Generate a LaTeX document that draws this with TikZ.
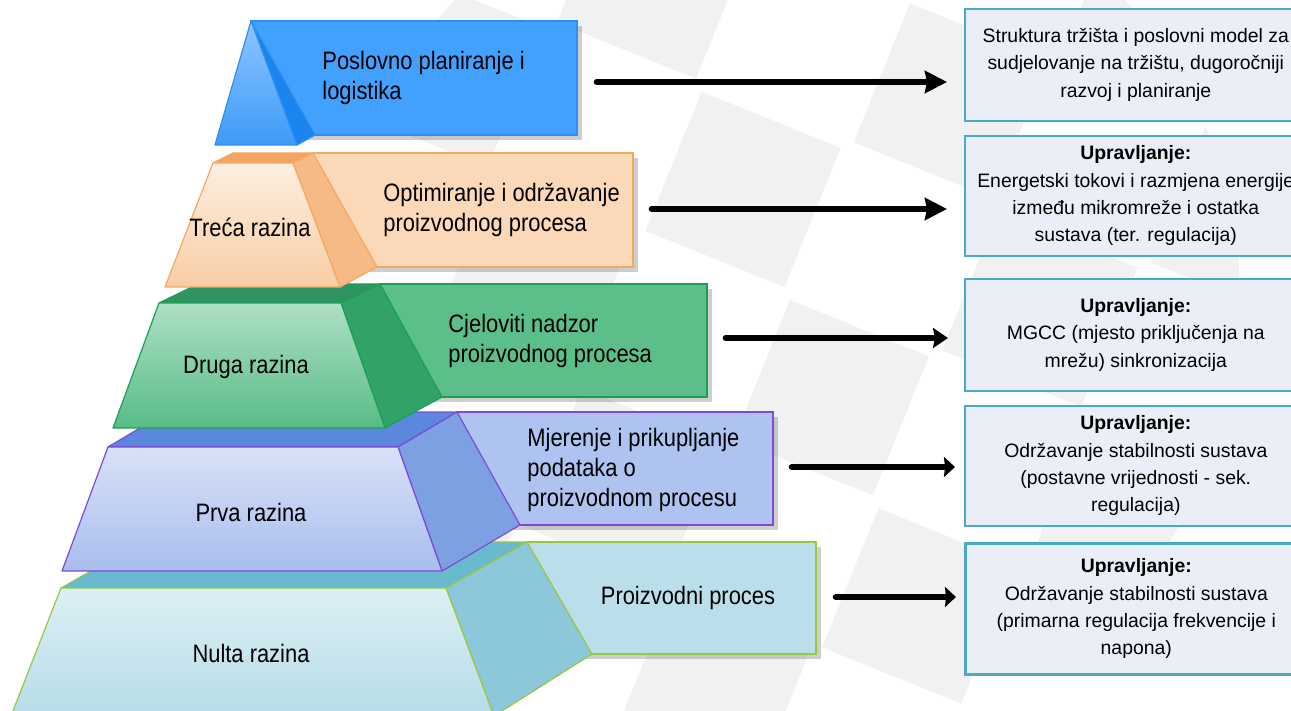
\documentclass[tikz,border=0pt]{standalone}
\usepackage{fontspec}
\setmainfont{Liberation Sans}
\newfontfamily\narrowfont[FakeStretch=0.87]{Liberation Sans}
\usetikzlibrary{arrows.meta,positioning,fit,shadows}

% tier colours
\definecolor{wmark}{HTML}{F1F1F1}
\definecolor{boxA}{HTML}{42A1FF}\definecolor{lineA}{HTML}{2B8FF5}
\definecolor{hiA}{HTML}{8EC5FF}\definecolor{loA}{HTML}{3D9BF8}\definecolor{sideA}{HTML}{1A85EE}
\definecolor{boxB}{HTML}{FBD8B8}\definecolor{lineB}{HTML}{F5A860}
\definecolor{hiB}{HTML}{FDEEE2}\definecolor{loB}{HTML}{F8CDA4}
\definecolor{topB}{HTML}{F2A561}\definecolor{sideB}{HTML}{F6BA86}
\definecolor{boxC}{HTML}{5CBF8A}\definecolor{lineC}{HTML}{1AA055}
\definecolor{hiC}{HTML}{AEE0C4}\definecolor{loC}{HTML}{58BC86}
\definecolor{topC}{HTML}{2F9461}\definecolor{sideC}{HTML}{33A267}
\definecolor{boxD}{HTML}{AEC3F0}\definecolor{lineD}{HTML}{7A4CD9}
\definecolor{hiD}{HTML}{D8E2F7}\definecolor{loD}{HTML}{A9BDEE}
\definecolor{topD}{HTML}{5B87DD}\definecolor{sideD}{HTML}{7DA0E3}
\definecolor{boxE}{HTML}{BBDFEA}\definecolor{lineE}{HTML}{95C940}
\definecolor{hiE}{HTML}{DDEFF5}\definecolor{loE}{HTML}{B6DCE7}
\definecolor{topE}{HTML}{69B9D1}\definecolor{sideE}{HTML}{8DC7DA}
\definecolor{ctlfill}{HTML}{EAEFF7}\definecolor{ctlline}{HTML}{4BA8C8}

\begin{document}
\begin{tikzpicture}[
	x=0.5pt, y=-0.5pt,
	every node/.style={font=\narrowfont\fontsize{12.6}{15}\selectfont, text=black},
	lblbox/.style={draw, line width=0.7pt, inner sep=0pt,
		drop shadow={shadow xshift=2.5pt, shadow yshift=-2.5pt, opacity=0.35, fill=black!55}},
	face/.style={line width=0.6pt, line join=round},
	lbltext/.style={anchor=west, align=left, inner sep=0pt},
	ctlbox/.style={draw=ctlline, fill=ctlfill, line width=0.8pt, anchor=north west,
		minimum width=171pt, align=center, inner sep=0pt,
		font=\fontsize{9.7}{13.7}\selectfont},
	arrowline/.style={line width=3pt, line cap=round},
	bighead/.style={-{Stealth[length=11pt, width=11pt, inset=1pt]}},
	midhead/.style={-{Stealth[length=7.5pt, width=10pt, inset=1pt]}},
	smallhead/.style={-{Stealth[length=5.5pt, width=10pt, inset=0.5pt]}}
	]
	\clip (0,0) rectangle (1291,711);
	
	%--- faint watermark ---
	\begin{scope}
		\clip (790,300) circle (225pt);
		\begin{scope}[rotate around={-22:(790,300)}]
			\foreach \i in {-3,...,3}{
				\foreach \j in {-3,...,3}{
					\pgfmathtruncatemacro{\odd}{mod(\i+\j+20,2)}
					\ifnum\odd=0
					\fill[wmark] (790+\i*160,300+\j*160) rectangle ++(150,150);
					\fi
				}
			}
		\end{scope}
	\end{scope}
	
	%--- level 0 ---
	\node[lblbox, draw=lineE, fill=boxE, fit={(527,542) (816,654)}] (lvl0) {};
	\draw[face, draw=lineE, fill=topE] (61,588) -- (142,542) -- (527,542) -- (446,588) -- cycle;
	\draw[face, draw=lineE, fill=sideE] (446,588) -- (527,542) -- (592,654) -- (494,716) -- cycle;
	\draw[face, draw=lineE, top color=hiE, bottom color=loE] (61,588) -- (446,588) -- (494,716) -- (11,716) -- cycle;
	\node (n0) at (251,653) {Nulta razina};
	\node (t0) at (688,598) {Proizvodni proces};
	
	%--- level 1 ---
	\node[lblbox, draw=lineD, fill=boxD, fit={(457,412) (773,525)}] (lvl1) {};
	\draw[face, draw=lineD, fill=topD] (108,447) -- (167,412) -- (457,412) -- (398,447) -- cycle;
	\draw[face, draw=lineD, fill=sideD] (398,447) -- (457,412) -- (520,525) -- (442,571) -- cycle;
	\draw[face, draw=lineD, top color=hiD, bottom color=loD] (108,447) -- (398,447) -- (442,571) -- (62,571) -- cycle;
	\node (n1) at (251,512) {Prva razina};
	\node[lbltext] (t1) at (527,470) {Mjerenje i prikupljanje\\podataka o\\proizvodnom procesu};
	
	%--- level 2 ---
	\node[lblbox, draw=lineC, fill=boxC, fit={(380,284) (707,397)}] (lvl2) {};
	\draw[face, draw=lineC, fill=topC] (159,303) -- (198,284) -- (380,284) -- (341,303) -- cycle;
	\draw[face, draw=lineC, fill=sideC] (341,303) -- (380,284) -- (442,397) -- (385,428) -- cycle;
	\draw[face, draw=lineC, top color=hiC, bottom color=loC] (159,303) -- (341,303) -- (385,428) -- (113,428) -- cycle;
	\node (n2) at (246,367) {Druga razina};
	\node[lbltext] (t2) at (448,341) {Cjeloviti nadzor\\proizvodnog procesa};
	
	%--- level 3 ---
	\node[lblbox, draw=lineB, fill=boxB, fit={(313,153) (633,267)}] (lvl3) {};
	\draw[face, draw=lineB, fill=topB] (213,163) -- (233,153) -- (313,153) -- (293,163) -- cycle;
	\draw[face, draw=lineB, fill=sideB] (293,163) -- (313,153) -- (377,267) -- (340,287) -- cycle;
	\draw[face, draw=lineB, top color=hiB, bottom color=loB] (213,163) -- (293,163) -- (340,287) -- (165,287) -- cycle;
	\node (n3) at (250,227) {Treća razina};
	\node[lbltext] (t3) at (383,210) {Optimiranje i održavanje\\proizvodnog procesa};
	
	%--- level 4 (top) ---
	\node[lblbox, draw=lineA, fill=boxA, fit={(251,21) (577,135)}] (lvl4) {};
	\draw[face, draw=lineA, fill=sideA] (257,37) -- (251,21) -- (315,135) -- (297,145) -- cycle;
	\draw[face, draw=lineA, top color=hiA, bottom color=loA] (251,21) -- (257,37) -- (297,145) -- (215,145) -- cycle;
	\node[lbltext] (t4) at (322,78) {Poslovno planiranje i\\logistika};
	
	%--- control boxes ---
	\node[ctlbox, minimum height=56pt] (ctl4) at (964,8)
	{Struktura tržišta i poslovni model za\\sudjelovanje na tržištu, dugoročniji\\razvoj i planiranje};
	\node[ctlbox, minimum height=60pt] (ctl3) at (964,135)
	{\textbf{Upravljanje:}\\Energetski tokovi i razmjena energije\\između mikromreže i ostatka\\sustava (ter. regulacija)};
	\node[ctlbox, minimum height=56pt] (ctl2) at (964,278)
	{\textbf{Upravljanje:}\\MGCC (mjesto priključenja na\\mrežu) sinkronizacija};
	\node[ctlbox, minimum height=60pt] (ctl1) at (964,405)
	{\textbf{Upravljanje:}\\Održavanje stabilnosti sustava\\(postavne vrijednosti - sek.\\regulacija)};
	\node[ctlbox, minimum height=65.5pt, line width=1.3pt] (ctl0) at (964,542)
	{\textbf{Upravljanje:}\\Održavanje stabilnosti sustava\\(primarna regulacija frekvencije i\\napona)};
	
	%--- arrows ---
	\coordinate (tip4) at (947,82);
	\coordinate (tip3) at (947,209);
	\coordinate (tip2) at (948,338);
	\coordinate (tip1) at (955,467);
	\coordinate (tip0) at (956,597);
	\draw[arrowline, bighead] ([xshift=9.5pt]lvl4.east |- tip4) -- (tip4);
	\draw[arrowline, bighead] ([xshift=9pt]lvl3.east |- tip3) -- (tip3);
	\draw[arrowline, midhead] ([xshift=9pt]lvl2.east |- tip2) -- (tip2);
	\draw[arrowline, smallhead] ([xshift=9pt]lvl1.east |- tip1) -- (tip1);
	\draw[arrowline, smallhead] ([xshift=9.5pt]lvl0.east |- tip0) -- (tip0);
\end{tikzpicture}
\end{document}
